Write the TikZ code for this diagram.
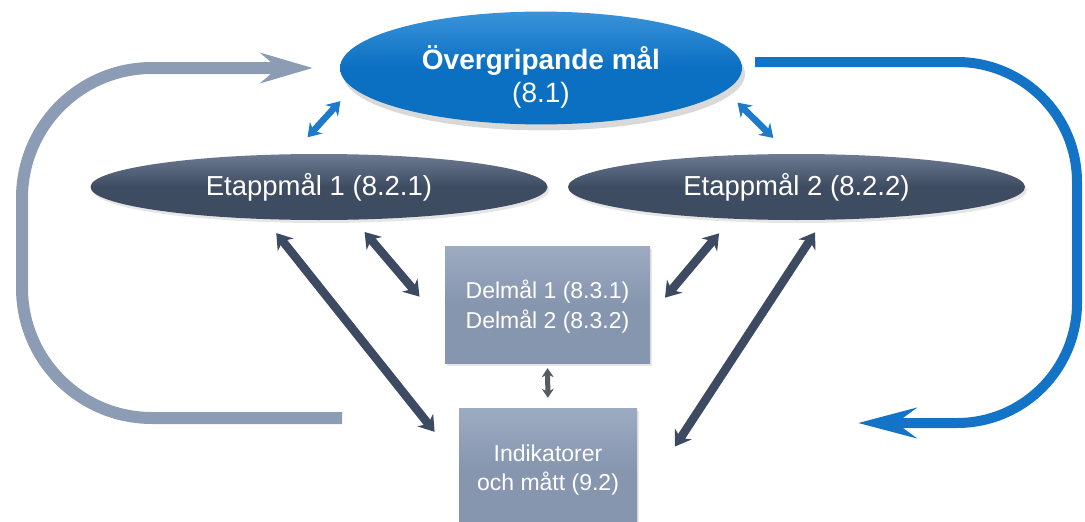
\documentclass[tikz,border=0pt]{standalone}
\usepackage{fontspec}
\setmainfont{Liberation Sans}
\usetikzlibrary{shapes.geometric}
\usetikzlibrary{positioning}
\usetikzlibrary{arrows.meta}
\usetikzlibrary{shadows}
\definecolor{goalblue}{HTML}{0B6FC2}
\definecolor{goaltop}{HTML}{3A93DA}
\definecolor{stagedark}{HTML}{3E4C62}
\definecolor{stagetop}{HTML}{6C7A92}
\definecolor{boxslate}{HTML}{8696AF}
\definecolor{boxtop}{HTML}{9DABC2}
\definecolor{linkdark}{HTML}{3D4B62}
\definecolor{linkblue}{HTML}{1C7CCB}
\definecolor{linkgray}{HTML}{555B63}
\definecolor{loopslate}{HTML}{8C9CB4}
\definecolor{loopblue}{HTML}{1273C7}
\tikzset{
    goalnode/.style = {ellipse, inner sep=0pt, minimum width=402pt, minimum height=108pt, top color=goaltop, bottom color=goalblue, middle color=goalblue, text=white, align=center, font=\fontsize{28}{33}\selectfont, drop shadow={opacity=0.3, shadow xshift=3pt, shadow yshift=-6pt}},
    stagenode/.style = {ellipse, inner sep=0pt, minimum width=457pt, minimum height=66pt, top color=stagetop, bottom color=stagedark, middle color=stagedark, text=white, font=\fontsize{27.5}{33}\selectfont, drop shadow={opacity=0.2, shadow xshift=2pt, shadow yshift=-3pt}},
    boxnode/.style = {rectangle, inner sep=0pt, top color=boxtop, bottom color=boxslate, middle color=boxslate, text=white, align=center, font=\fontsize{23}{29.5}\selectfont, drop shadow={opacity=0.2, shadow xshift=2pt, shadow yshift=-3pt}},
    edged/.style = {{Stealth[length=15pt,width=20pt]}-{Stealth[length=15pt,width=20pt]}, line width=8.5pt, draw=linkdark}, % dark links
    edgeb/.style = {{Stealth[length=13pt,width=17pt]}-{Stealth[length=13pt,width=17pt]}, line width=6.5pt, draw=linkblue}, % blue links
    edgeg/.style = {{Stealth[length=9pt,width=12pt]}-{Stealth[length=9pt,width=12pt]}, line width=5pt, draw=linkgray},
    loopg/.style = {-{Stealth[length=52pt,width=30pt,inset=17pt]}, line width=12pt, draw=loopslate, rounded corners=130pt}, % back
    loopb/.style = {-{Stealth[length=58pt,width=30pt,inset=20pt]}, line width=10pt, draw=loopblue, rounded corners=120pt} % forward
}

\begin{document}
\begin{tikzpicture}[x=1pt,y=-1pt]
\useasboundingbox (0,0) rectangle (1085,522);

\node[goalnode] at (541, 68) (goal) {\rule{0pt}{41pt}\textbf{Övergripande mål}\\(8.1)};
\node[stagenode] at (319, 187) (st1) {Etappmål 1 (8.2.1)};
\node[stagenode] at (796.5, 187) (st2) {Etappmål 2 (8.2.2)};
\node[boxnode, minimum width=205pt, minimum height=117pt] at (547.5, 304.5) (sub) {\rule{0pt}{23pt}Delmål 1 (8.3.1)\\Delmål 2 (8.3.2)};
\node[boxnode, minimum width=178pt, minimum height=124pt] at (548, 470) (ind) {Indikatorer\\och mått (9.2)};

\coordinate (lstart) at (342, 418);
\coordinate (rstart) at (755, 62);
\coordinate (rend) at (858, 423);

\draw[loopg, shorten >=27pt] (lstart) -- (22, 418) -- (22, 68) -- (goal.west);
\draw[loopb] (rstart) -- (1077, 62) -- (1077, 423) -- (rend);

\draw[edgeb, shorten <=18pt, shorten >=22.6pt] (goal.186.4) -- (st1.129.3);
\draw[edgeb, shorten <=17pt, shorten >=22.6pt] (goal.353.2) -- (st2.102.8);
\draw[edged, shorten <=17.6pt, shorten >=38.8pt] (st1.211.8) -- (ind.175.2);
\draw[edged, shorten <=16pt, shorten >=39pt] (st1.317.6) -- (sub.192.9);
\draw[edged, shorten <=19pt, shorten >=23pt] (st2.206.3) -- (sub.354.5);
\draw[edged, shorten <=14.7pt, shorten >=69pt] (st2.309.1) -- (ind.339.7);
\draw[edgeg, shorten <=5pt, shorten >=10pt] (sub.south) -- (ind.north);

\end{tikzpicture}
\end{document}
